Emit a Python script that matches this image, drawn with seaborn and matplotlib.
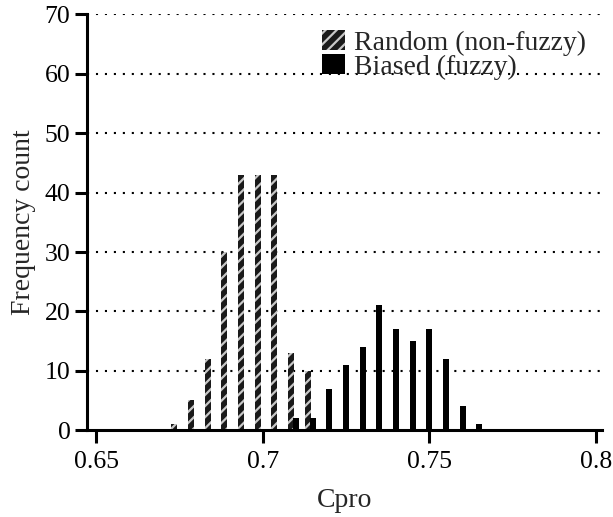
import numpy as np
import pandas as pd
import matplotlib
matplotlib.use("Agg")
import matplotlib.pyplot as plt
import seaborn as sns

sns.set_style("white")
plt.rcParams["font.family"] = ["Liberation Serif", "DejaVu Serif"]
plt.rcParams["hatch.linewidth"] = 1.6

# bin positions (Cpro) and frequency counts
random_x = [0.6735, 0.6785, 0.6835, 0.6885, 0.6935, 0.6985, 0.7035, 0.7085, 0.7135]
random_n = [1, 5, 12, 30, 43, 43, 43, 13, 10]
biased_x = [0.710, 0.715, 0.720, 0.725, 0.730, 0.735, 0.740, 0.745, 0.750, 0.755, 0.760, 0.765]
biased_n = [2, 2, 7, 11, 14, 21, 17, 15, 17, 12, 4, 1]
xticks = [0.65, 0.7, 0.75, 0.8]
xticklabels = ["0.65", "0.7", "0.75", "0.8"]
yticks = [0, 10, 20, 30, 40, 50, 60, 70]

rnd = pd.DataFrame({"Cpro": random_x, "count": random_n})
bia = pd.DataFrame({"Cpro": biased_x, "count": biased_n})

fig = plt.figure(figsize=(6.13, 5.17), dpi=100)
ax = fig.add_axes([0.142, 0.168, 0.840, 0.804])

# dotted grid behind the bars
for yv in yticks[1:]:
    ax.axhline(yv, color="black", lw=1.5, ls=(0, (1, 3.3)), zorder=0)

sns.barplot(data=rnd, x="Cpro", y="count", native_scale=True, width=0.36,
            errorbar=None, color="#1a1a1a", edgecolor="#c8c8c8", linewidth=0,
            hatch="///", label="Random (non-fuzzy)", ax=ax, zorder=2)
sns.barplot(data=bia, x="Cpro", y="count", native_scale=True, width=0.36,
            errorbar=None, color="black", edgecolor="black", linewidth=0,
            label="Biased (fuzzy)", ax=ax, zorder=3)

ax.set_xlim(0.6473, 0.8018)
ax.set_ylim(0, 70)
ax.set_xticks(xticks)
ax.set_xticklabels(xticklabels)
ax.set_yticks(yticks)
ax.tick_params(axis="both", direction="out", length=9, width=2.2, labelsize=18.5,
               color="black", labelcolor="black", bottom=True, left=True)
ax.tick_params(axis="y", pad=3)
ax.tick_params(axis="x", pad=6)
for side in ["top", "right"]:
    ax.spines[side].set_visible(False)
for side in ["left", "bottom"]:
    ax.spines[side].set_linewidth(2.2)
    ax.spines[side].set_color("black")

ax.set_xlabel("Cpro", fontsize=20, labelpad=11)
ax.set_ylabel("Frequency count", fontsize=20, labelpad=6)

ax.legend(loc="upper left", bbox_to_anchor=(0.456, 0.962), frameon=False,
          fontsize=20, handlelength=0.85, handleheight=0.7, handletextpad=0.3,
          labelspacing=-0.05, borderpad=0, borderaxespad=0)

fig.savefig("out.png", dpi=100)
